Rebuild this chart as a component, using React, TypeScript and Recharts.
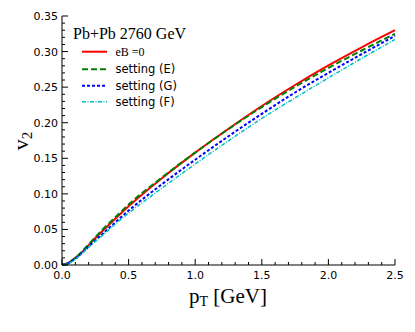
import React from "react";
import { Legend, Line, LineChart, XAxis, YAxis } from "recharts";

const ptValues = [0, 0.05, 0.1, 0.15, 0.2, 0.3, 0.4, 0.5, 0.75, 1.0, 1.25, 1.5, 1.75, 2.0, 2.25, 2.5];
const v2EB0 = [0, 0.003, 0.01, 0.018, 0.028, 0.047, 0.065, 0.0825, 0.122, 0.158, 0.1915, 0.2235, 0.253, 0.2805, 0.306, 0.33];
const v2SettingE = [0, 0.003, 0.01, 0.019, 0.029, 0.049, 0.067, 0.085, 0.123, 0.158, 0.191, 0.222, 0.2505, 0.277, 0.3015, 0.325];
const v2SettingG = [0, 0.003, 0.009, 0.017, 0.026, 0.043, 0.06, 0.0765, 0.1135, 0.148, 0.181, 0.2125, 0.2425, 0.27, 0.2965, 0.322];
const v2SettingF = [0, 0.002, 0.008, 0.016, 0.025, 0.041, 0.0575, 0.073, 0.108, 0.142, 0.1745, 0.206, 0.235, 0.263, 0.2905, 0.317];

const xTicks = [
  0, 0.1, 0.2, 0.3, 0.4, 0.5, 0.6, 0.7, 0.8, 0.9, 1.0, 1.1, 1.2, 1.3, 1.4, 1.5, 1.6, 1.7, 1.8, 1.9, 2.0, 2.1,
  2.2, 2.3, 2.4, 2.5,
];
const yTicks = [
  0, 0.01, 0.02, 0.03, 0.04, 0.05, 0.06, 0.07, 0.08, 0.09, 0.1, 0.11, 0.12, 0.13, 0.14, 0.15, 0.16, 0.17, 0.18,
  0.19, 0.2, 0.21, 0.22, 0.23, 0.24, 0.25, 0.26, 0.27, 0.28, 0.29, 0.3, 0.31, 0.32, 0.33, 0.34, 0.35,
];

const series = [
  { key: "eb0", name: "eB =0", color: "#ff0000", dash: undefined, width: 2, serif: true },
  { key: "e", name: "setting (E)", color: "#008000", dash: "6 3", width: 2, serif: false },
  { key: "g", name: "setting (G)", color: "#0000ff", dash: "3 2", width: 2, serif: false },
  { key: "f", name: "setting (F)", color: "#00bfbf", dash: "4 1.5 1 1.5", width: 1.5, serif: false },
];

const data = ptValues.map((pt, i) => ({
  pt,
  eb0: v2EB0[i],
  e: v2SettingE[i],
  g: v2SettingG[i],
  f: v2SettingF[i],
}));

const SANS = "DejaVu Sans, sans-serif";
const SERIF = "Liberation Serif, Times New Roman, serif";

const isMajor = (v: number, step: number) => Math.abs(v / step - Math.round(v / step)) < 1e-6;

// matplotlib style: ticks point inward, labels only on bottom/left
function makeTick(side: "bottom" | "top" | "left" | "right") {
  return (props: any) => {
    const { x, y, payload } = props;
    const v = payload.value as number;
    const major = side === "bottom" || side === "top" ? isMajor(v, 0.5) : isMajor(v, 0.05);
    const len = major ? 6 : 3;
    let line;
    if (side === "bottom") line = <line x1={x} y1={y} x2={x} y2={y - len} stroke="#000" />;
    else if (side === "top") line = <line x1={x} y1={y} x2={x} y2={y + len} stroke="#000" />;
    else if (side === "left") line = <line x1={x} y1={y} x2={x + len} y2={y} stroke="#000" />;
    else line = <line x1={x} y1={y} x2={x - len} y2={y} stroke="#000" />;
    let label = null;
    if (major && side === "bottom") {
      label = (
        <text x={x} y={y + 14} textAnchor="middle" fontFamily={SANS} fontSize={11} fill="#000">
          {v.toFixed(1)}
        </text>
      );
    } else if (major && side === "left") {
      label = (
        <text x={x - 4} y={y + 4} textAnchor="end" fontFamily={SANS} fontSize={11} fill="#000">
          {v.toFixed(2)}
        </text>
      );
    }
    return (
      <g>
        {line}
        {label}
      </g>
    );
  };
}

function LegendBox() {
  return (
    <svg width={160} height={95}>
      <text x={11} y={23} fontFamily={SERIF} fontSize={16} fill="#000">
        Pb+Pb 2760 GeV
      </text>
      {series.map((s, i) => {
        const cy = [35.7, 53.3, 69.7, 85.7][i];
        return (
          <g key={s.key}>
            <line x1={20} x2={45} y1={cy} y2={cy} stroke={s.color} strokeWidth={s.width} strokeDasharray={s.dash} />
            <text
              x={53.5}
              y={cy + 4}
              fontFamily={s.serif ? SERIF : SANS}
              fontSize={s.serif ? 12 : 11.5}
              fill="#000"
            >
              {s.name}
            </text>
          </g>
        );
      })}
    </svg>
  );
}

export default function App() {
  return (
    <div style={{ position: "absolute", left: 0, top: 0, width: 415, height: 332, background: "#fff" }}>
      <LineChart width={415} height={332} data={data} margin={{ top: 16, right: 20, left: 0, bottom: 0 }}>
        <XAxis
          xAxisId="bottom"
          dataKey="pt"
          type="number"
          domain={[0, 2.5]}
          ticks={xTicks}
          interval={0}
          height={67}
          tickSize={0}
          tickMargin={0}
          tickLine={false}
          stroke="#000"
          tick={makeTick("bottom")}
          label={{
            position: "insideBottom",
            content: () => (
              <text x={228} y={303} textAnchor="middle" fontFamily={SERIF} fontSize={21} fill="#000">
                p<tspan fontSize={14} dy={3}>T</tspan>
                <tspan dy={-3}> [GeV]</tspan>
              </text>
            ),
          }}
        />
        <XAxis
          xAxisId="top"
          orientation="top"
          dataKey="pt"
          type="number"
          domain={[0, 2.5]}
          ticks={xTicks}
          interval={0}
          height={0}
          tickSize={0}
          tickMargin={0}
          tickLine={false}
          stroke="#000"
          tick={makeTick("top")}
        />
        <YAxis
          yAxisId="left"
          type="number"
          domain={[0, 0.35]}
          ticks={yTicks}
          interval={0}
          width={62}
          tickSize={0}
          tickMargin={0}
          tickLine={false}
          stroke="#000"
          tick={makeTick("left")}
          label={{
            position: "insideLeft",
            content: () => (
              <text
                x={28}
                y={141}
                transform="rotate(-90 28 141)"
                textAnchor="middle"
                fontFamily={SERIF}
                fontSize={22}
                fill="#000"
              >
                v<tspan fontSize={15} dy={4}>2</tspan>
              </text>
            ),
          }}
        />
        <YAxis
          yAxisId="right"
          orientation="right"
          type="number"
          domain={[0, 0.35]}
          ticks={yTicks}
          interval={0}
          width={0}
          tickSize={0}
          tickMargin={0}
          tickLine={false}
          stroke="#000"
          tick={makeTick("right")}
        />
        <Legend
          layout="horizontal"
          verticalAlign="middle"
          align="center"
          wrapperStyle={{ position: "absolute", left: 62, top: 16, width: 160, height: 95 }}
          content={() => <LegendBox />}
        />
        {series.map((s) => (
          <Line
            key={s.key}
            xAxisId="bottom"
            yAxisId="left"
            type="monotone"
            dataKey={s.key}
            name={s.name}
            stroke={s.color}
            strokeWidth={s.width}
            strokeDasharray={s.dash}
            dot={false}
            activeDot={false}
            isAnimationActive={false}
          />
        ))}
      </LineChart>
    </div>
  );
}
